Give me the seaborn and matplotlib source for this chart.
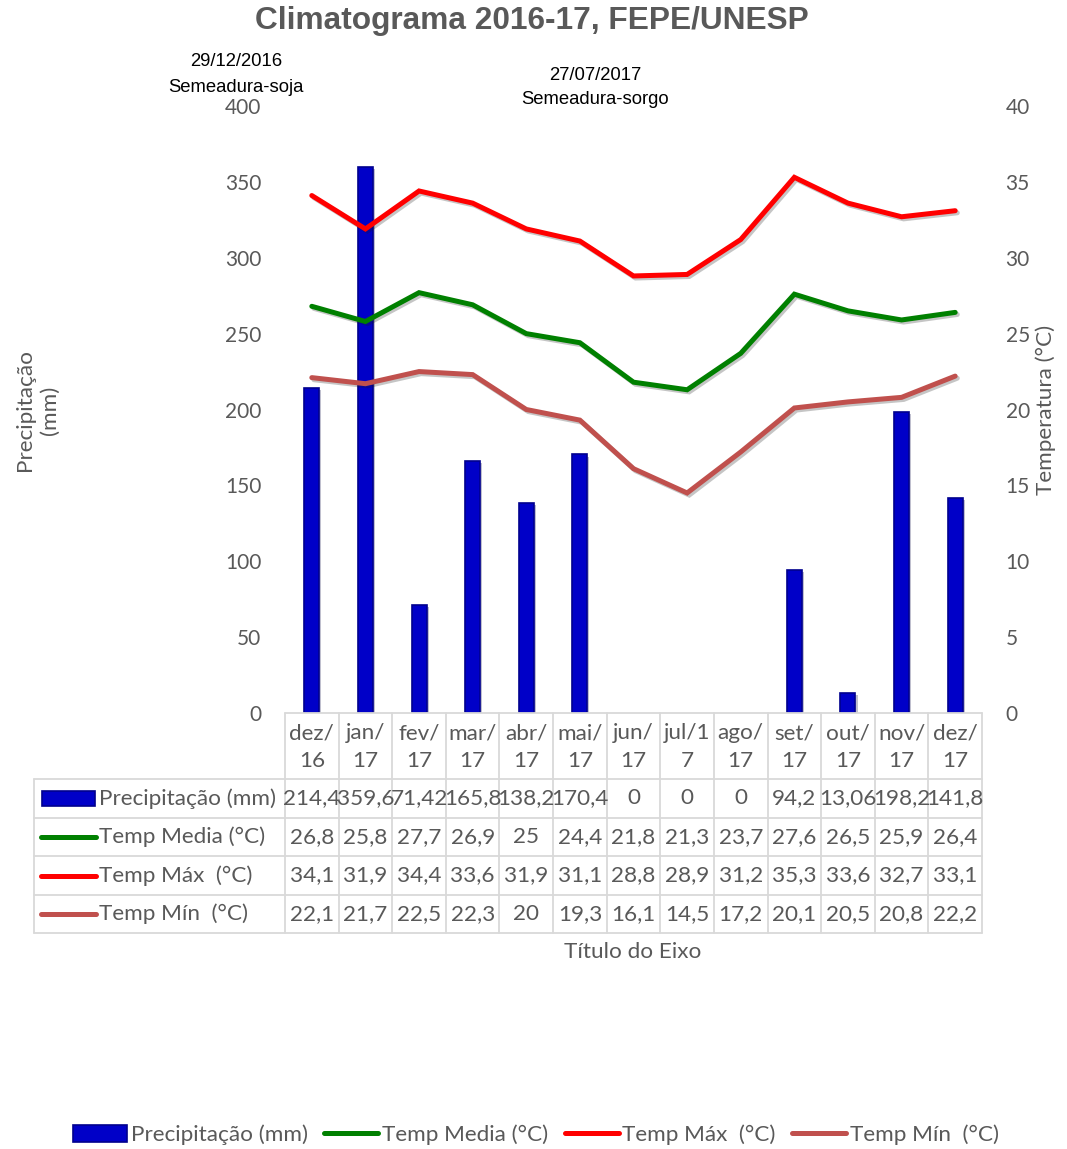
import numpy as np
import pandas as pd
import matplotlib
matplotlib.use("Agg")
import matplotlib.pyplot as plt
import matplotlib.patheffects as pe
from matplotlib.lines import Line2D
from matplotlib.patches import Rectangle
import seaborn as sns

# ---- data ----
months = ["dez/\n16", "jan/\n17", "fev/\n17", "mar/\n17", "abr/\n17", "mai/\n17",
          "jun/\n17", "jul/1\n7", "ago/\n17", "set/\n17", "out/\n17", "nov/\n17", "dez/\n17"]
precip = [214.4, 359.6, 71.42, 165.8, 138.2, 170.4, 0, 0, 0, 94.2, 13.06, 198.2, 141.8]
temp_media = [26.8, 25.8, 27.7, 26.9, 25, 24.4, 21.8, 21.3, 23.7, 27.6, 26.5, 25.9, 26.4]
temp_max = [34.1, 31.9, 34.4, 33.6, 31.9, 31.1, 28.8, 28.9, 31.2, 35.3, 33.6, 32.7, 33.1]
temp_min = [22.1, 21.7, 22.5, 22.3, 20, 19.3, 16.1, 14.5, 17.2, 20.1, 20.5, 20.8, 22.2]

series_names = ["Precipitação (mm)", "Temp Media (°C)", "Temp Máx  (°C)", "Temp Mín  (°C)"]
left_ticks = [0, 50, 100, 150, 200, 250, 300, 350, 400]
right_ticks = [0, 5, 10, 15, 20, 25, 30, 35, 40]

# ---- style ----
BAR_FACE = "#0000C8"
BAR_EDGE = "#00008E"
C_MEDIA = "#008000"
C_MAX = "#FF0000"
C_MIN = "#C0504D"
GREY_TXT = "#595959"
GRID = "#D9D9D9"
BODY_FONT = ["Lato", "DejaVu Sans"]
FS = 16.2      # table, legend and axis titles
FS_TICK = 15

sns.set_theme(style="white")
plt.rcParams["font.family"] = BODY_FONT

W, H = 1067, 1149
fig = plt.figure(figsize=(W / 100, H / 100), dpi=100)


def fx(x):
    return x / W


def fy(y):
    return 1 - y / H


# plot area in pixel terms
X0, X1 = 285, 982
Y0, Y1 = 713, 106
ax = fig.add_axes([fx(X0), fy(Y0), fx(X1) - fx(X0), fy(Y1) - fy(Y0)])

df = pd.DataFrame({
    "pos": np.arange(len(months)),
    "precip": precip,
    "media": temp_media,
    "max": temp_max,
    "min": temp_min,
})

sns.barplot(data=df, x="pos", y="precip", ax=ax, color=BAR_FACE, saturation=1,
            width=0.28, edgecolor=BAR_EDGE, linewidth=1.2)
for p in ax.patches:
    if p.get_height() == 0:
        p.set_linewidth(0)
    else:
        p.set_path_effects([pe.SimplePatchShadow(offset=(1.5, -1.5), alpha=0.25), pe.Normal()])

ax.set_xlim(-0.5, len(months) - 0.5)
ax.set_ylim(0, 400)
ax.set_yticks(left_ticks)
ax.set_xticks([])
ax.set_xlabel("")
ax.set_ylabel("")
ax.tick_params(axis="y", length=0, pad=17, labelsize=FS_TICK, labelcolor=GREY_TXT)
for s in ax.spines.values():
    s.set_visible(False)

ax2 = ax.twinx()
shadow = [pe.SimpleLineShadow(offset=(1.5, -1.5), alpha=0.25), pe.Normal()]
for col, c in [("media", C_MEDIA), ("max", C_MAX), ("min", C_MIN)]:
    sns.lineplot(data=df, x="pos", y=col, ax=ax2, color=c, linewidth=3.6,
                 legend=False, solid_capstyle="round", solid_joinstyle="miter")
for ln in ax2.lines:
    ln.set_path_effects(shadow)
ax2.set_ylim(0, 40)
ax2.set_yticks(right_ticks)
ax2.set_xlim(-0.5, len(months) - 0.5)
ax2.set_xticks([])
ax2.set_xlabel("")
ax2.set_ylabel("")
ax2.tick_params(axis="y", length=0, pad=17, labelsize=FS_TICK, labelcolor=GREY_TXT)
for s in ax2.spines.values():
    s.set_visible(False)
ax2.grid(False)
ax.grid(False)

# ---- axis titles ----
fig.text(fx(37), fy(410), "Precipitação\n(mm)", rotation=90, ha="center", va="center",
         fontsize=FS, color=GREY_TXT, linespacing=1.3)
fig.text(fx(1046), fy(410), "Temperatura (°C)", rotation=90, ha="center", va="center",
         fontsize=FS, color=GREY_TXT)

# ---- title & sowing notes ----
fig.text(fx(532), fy(21), "Climatograma 2016-17, FEPE/UNESP", ha="center", va="center",
         fontsize=22.8, fontweight="bold", color=GREY_TXT, family="Liberation Sans")
for (x, y, t) in [(236, 62, "29/12/2016"), (236, 87, "Semeadura-soja"),
                  (595, 75, "27/07/2017"), (595, 100, "Semeadura-sorgo")]:
    fig.text(fx(x), fy(y), t, ha="center", va="center", fontsize=13.3,
             color="black", family="Liberation Sans")

# ---- data table under the plot ----
ncol = len(months)
colw = (X1 - X0) / ncol
TBL_LEFT = 34
row_lines = [779, 818, 856, 895, 933]


def hline(x_a, x_b, y):
    fig.add_artist(Line2D([fx(x_a), fx(x_b)], [fy(y), fy(y)], transform=fig.transFigure,
                          color=GRID, linewidth=1.3))


def vline(x, y_a, y_b):
    fig.add_artist(Line2D([fx(x), fx(x)], [fy(y_a), fy(y_b)], transform=fig.transFigure,
                          color=GRID, linewidth=1.3))


hline(X0, X1, Y0)
for y in row_lines:
    hline(TBL_LEFT, X1, y)
for i in range(ncol + 1):
    vline(X0 + i * colw, Y0, row_lines[-1])
vline(TBL_LEFT, row_lines[0], row_lines[-1])

# month header
for i, m in enumerate(months):
    fig.text(fx(X0 + (i + 0.5) * colw), fy((Y0 + row_lines[0]) / 2 + 1), m, ha="center",
             va="center", fontsize=FS, color=GREY_TXT, linespacing=1.45)


def fmt(v):
    return f"{v:g}".replace(".", ",")


rows = [precip, temp_media, temp_max, temp_min]
for r, (vals, name) in enumerate(zip(rows, series_names)):
    yc = (row_lines[r] + row_lines[r + 1]) / 2
    for i, v in enumerate(vals):
        fig.text(fx(X0 + (i + 0.5) * colw), fy(yc), fmt(v), ha="center", va="center",
                 fontsize=FS, color=GREY_TXT)
    fig.text(fx(99), fy(yc), name, ha="left", va="center", fontsize=FS, color=GREY_TXT)

# swatches in the table row headers
fig.add_artist(Rectangle((fx(42), fy(806)), fx(95) - fx(42), fy(791) - fy(806),
                         transform=fig.transFigure, facecolor=BAR_FACE,
                         edgecolor=BAR_EDGE, linewidth=1.2))
for r, c in zip([1, 2, 3], [C_MEDIA, C_MAX, C_MIN]):
    yc = (row_lines[r] + row_lines[r + 1]) / 2
    fig.add_artist(Line2D([fx(41), fx(96)], [fy(yc), fy(yc)], transform=fig.transFigure,
                          color=c, linewidth=3.6, solid_capstyle="round"))

fig.text(fx(633), fy(952), "Título do Eixo", ha="center", va="center", fontsize=FS,
         color=GREY_TXT)

# ---- bottom legend ----
handles = [
    Rectangle((0, 0), 1, 1, facecolor=BAR_FACE, edgecolor=BAR_EDGE, linewidth=1.2),
    Line2D([], [], color=C_MEDIA, linewidth=3.6, solid_capstyle="round"),
    Line2D([], [], color=C_MAX, linewidth=3.6, solid_capstyle="round"),
    Line2D([], [], color=C_MIN, linewidth=3.6, solid_capstyle="round"),
]
leg = fig.legend(handles, series_names, loc="center", bbox_to_anchor=(fx(536), fy(1135)),
                 ncol=4, frameon=False, fontsize=FS, handlelength=2.4, handleheight=0.75,
                 handletextpad=0.15, columnspacing=0.75, labelcolor=GREY_TXT)

fig.savefig("out.png", dpi=100)
